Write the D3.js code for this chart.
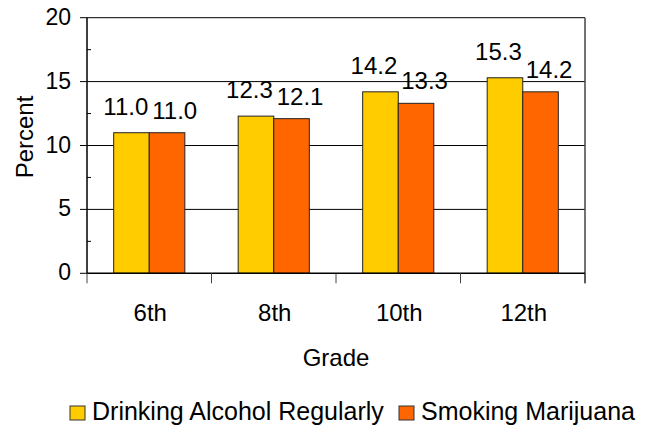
<!DOCTYPE html>
<html>
<head>
<meta charset="utf-8">
<script src="https://cdn.jsdelivr.net/npm/d3@7"></script>
<style>
  body { margin: 0; background: #fff; }
  svg text { font-family: "Liberation Sans", Arial, sans-serif; fill: #000; }
</style>
</head>
<body>
<svg id="chart" width="654" height="425"></svg>
<script>
// chart data
const grades = ["6th", "8th", "10th", "12th"];
const seriesNames = ["Drinking Alcohol Regularly", "Smoking Marijuana"];
const alcohol = [11.0, 12.3, 14.2, 15.3];
const marijuana = [11.0, 12.1, 13.3, 14.2];
const yTicks = [0, 5, 10, 15, 20];
const colors = ["#FFCC00", "#FF6600"];

const width = 654, height = 425;
const margin = { top: 17.7, right: 69, bottom: 151.7, left: 87 };

const svg = d3.select("#chart");

const x = d3.scaleBand()
  .domain(grades)
  .range([margin.left, width - margin.right])
  .padding(0);

const y = d3.scaleLinear()
  .domain([0, 20])
  .range([height - margin.bottom, margin.top]);

// excel style gap width 150% -> band = 3.5 bars
const barW = x.bandwidth() / 3.5;
const x1 = d3.scaleBand()
  .domain(seriesNames)
  .range([x.bandwidth() / 2 - barW, x.bandwidth() / 2 + barW])
  .padding(0);

const rows = grades.map((g, i) => ({ grade: g, values: [alcohol[i], marijuana[i]] }));

// gridlines
svg.append("g")
  .selectAll("line")
  .data(yTicks.filter(t => t > 0))
  .join("line")
  .attr("x1", margin.left).attr("x2", width - margin.right)
  .attr("y1", d => y(d)).attr("y2", d => y(d))
  .attr("stroke", "#000").attr("stroke-width", 1);

// right border (runs down like the category ticks)
svg.append("line")
  .attr("x1", width - margin.right).attr("x2", width - margin.right)
  .attr("y1", y(20)).attr("y2", y(0) + 10)
  .attr("stroke", "#444").attr("stroke-width", 1.5);

// bars
const groups = svg.append("g")
  .selectAll("g")
  .data(rows)
  .join("g")
  .attr("transform", d => `translate(${x(d.grade)},0)`);

groups.selectAll("rect")
  .data(d => d.values.map((v, k) => ({ key: seriesNames[k], value: v, k })))
  .join("rect")
  .attr("x", d => x1(d.key))
  .attr("y", d => y(d.value))
  .attr("width", x1.bandwidth())
  .attr("height", d => y(0) - y(d.value))
  .attr("fill", d => colors[d.k])
  .attr("stroke", "#222")
  .attr("stroke-width", 1);

// value labels: first series hugs right edge, second hugs left edge
groups.selectAll("text")
  .data(d => d.values.map((v, k) => ({ key: seriesNames[k], value: v, k })))
  .join("text")
  .attr("x", d => d.k === 0 ? x1(d.key) + x1.bandwidth() - 1 : x1(d.key) + 3)
  .attr("y", d => y(d.value) - (d.k === 0 ? 18 : 14))
  .attr("text-anchor", d => d.k === 0 ? "end" : "start")
  .style("font-size", "24px")
  .text(d => d.value.toFixed(1));

// y axis
const yAxis = svg.append("g");
yAxis.append("line")
  .attr("x1", margin.left).attr("x2", margin.left)
  .attr("y1", y(20)).attr("y2", y(0))
  .attr("stroke", "#000").attr("stroke-width", 1.5);
yAxis.selectAll(".major")
  .data(yTicks)
  .join("line")
  .attr("class", "major")
  .attr("x1", margin.left - 7).attr("x2", margin.left)
  .attr("y1", d => y(d)).attr("y2", d => y(d))
  .attr("stroke", "#000").attr("stroke-width", 1);
yAxis.selectAll(".minor")
  .data(d3.range(2.5, 20, 5))
  .join("line")
  .attr("class", "minor")
  .attr("x1", margin.left).attr("x2", margin.left + 4)
  .attr("y1", d => y(d)).attr("y2", d => y(d))
  .attr("stroke", "#000").attr("stroke-width", 1);
yAxis.selectAll("text")
  .data(yTicks)
  .join("text")
  .attr("x", 71)
  .attr("y", d => y(d) + 7)
  .attr("text-anchor", "end")
  .style("font-size", "23px")
  .text(d => d);

// x axis
const xAxis = svg.append("g");
xAxis.append("line")
  .attr("x1", margin.left).attr("x2", width - margin.right)
  .attr("y1", y(0)).attr("y2", y(0))
  .attr("stroke", "#000").attr("stroke-width", 1.5);
xAxis.selectAll(".tick")
  .data(grades.concat([null]))
  .join("line")
  .attr("class", "tick")
  .attr("x1", (d, i) => margin.left + i * x.bandwidth())
  .attr("x2", (d, i) => margin.left + i * x.bandwidth())
  .attr("y1", y(0)).attr("y2", y(0) + 10)
  .attr("stroke", "#444").attr("stroke-width", 1);
xAxis.selectAll("text")
  .data(grades)
  .join("text")
  .attr("x", d => x(d) + x.bandwidth() / 2 + 1)
  .attr("y", 321)
  .attr("text-anchor", "middle")
  .style("font-size", "24px")
  .text(d => d);

// axis titles
svg.append("text")
  .attr("x", (margin.left + width - margin.right) / 2)
  .attr("y", 366)
  .attr("text-anchor", "middle")
  .style("font-size", "24px")
  .text("Grade");

svg.append("text")
  .attr("transform", "translate(33,137) rotate(-90)")
  .attr("text-anchor", "middle")
  .style("font-size", "24px")
  .text("Percent");

// legend
const legendPos = [70, 399];
const legend = svg.append("g")
  .selectAll("g")
  .data(seriesNames)
  .join("g")
  .attr("transform", (d, i) => `translate(${legendPos[i]},406)`);
legend.append("rect")
  .attr("width", 15).attr("height", 14)
  .attr("fill", (d, i) => colors[i])
  .attr("stroke", "#333").attr("stroke-width", 1);
legend.append("text")
  .attr("x", 22)
  .attr("y", 14)
  .style("font-size", "25px")
  .text(d => d);
</script>
</body>
</html>
